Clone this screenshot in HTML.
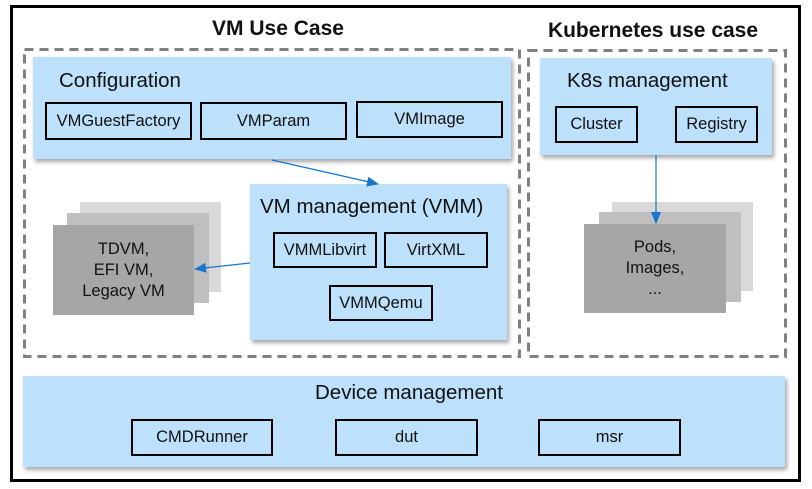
<!DOCTYPE html>
<html><head><meta charset="utf-8"><style>
body{margin:0;width:812px;height:489px;background:#fff;position:relative;overflow:hidden;font-family:"Liberation Sans",sans-serif;color:#111}
div{position:absolute;box-sizing:border-box}
.blue{background:#bde0fb;box-shadow:2px 3px 4px rgba(0,0,0,.35)}
.sb{border:2px solid #000;display:flex;align-items:center;justify-content:center;font-size:16.5px}
.t{font-size:20.5px;white-space:nowrap}
.g{display:flex;align-items:center;justify-content:center;text-align:center;font-size:16.5px;line-height:21px}
</style></head><body>
<div style="left:10px;top:5px;width:791px;height:477px;border:3px solid #000"></div>
<div class="t" style="left:168px;top:17px;width:220px;text-align:center;font-weight:bold;font-size:21px">VM Use Case</div>
<div class="t" style="left:533px;top:19px;width:240px;text-align:center;font-weight:bold;font-size:21px">Kubernetes use case</div>
<svg width="812" height="489" style="position:absolute;left:0;top:0">
<rect x="24.5" y="49.5" width="495" height="307" fill="none" stroke="#808080" stroke-width="3" stroke-dasharray="9,6"/>
<rect x="528.5" y="50.5" width="257" height="306" fill="none" stroke="#808080" stroke-width="3" stroke-dasharray="9,6"/>
</svg>

<div class="blue" style="left:33px;top:57px;width:478px;height:102px"></div>
<div class="t" style="left:59px;top:69px">Configuration</div>
<div class="sb" style="left:45px;top:102px;width:147px;height:38px">VMGuestFactory</div>
<div class="sb" style="left:200px;top:102px;width:147px;height:38px">VMParam</div>
<div class="sb" style="left:356px;top:101px;width:147px;height:37px">VMImage</div>

<div style="left:80px;top:202px;width:141px;height:90px;background:#d9d9d9"></div>
<div style="left:67px;top:213px;width:142px;height:90px;background:#bfbfbf"></div>
<div class="g" style="left:53px;top:225px;width:141px;height:90px;background:#a6a6a6">TDVM,<br>EFI VM,<br>Legacy VM</div>

<div class="blue" style="left:250px;top:184px;width:257px;height:156px"></div>
<div class="t" style="left:260px;top:195px">VM management (VMM)</div>
<div class="sb" style="left:273px;top:232px;width:104px;height:36px">VMMLibvirt</div>
<div class="sb" style="left:384px;top:232px;width:104px;height:36px">VirtXML</div>
<div class="sb" style="left:329px;top:285px;width:104px;height:36px">VMMQemu</div>

<div class="blue" style="left:540px;top:58px;width:232px;height:97px"></div>
<div class="t" style="left:567px;top:69px">K8s management</div>
<div class="sb" style="left:555px;top:106px;width:83px;height:37px">Cluster</div>
<div class="sb" style="left:675px;top:106px;width:83px;height:37px">Registry</div>

<div style="left:612px;top:202px;width:141px;height:89px;background:#d9d9d9"></div>
<div style="left:599px;top:212px;width:142px;height:90px;background:#bfbfbf"></div>
<div class="g" style="left:584px;top:224px;width:142px;height:89px;background:#a6a6a6">Pods,<br>Images,<br>...</div>

<div class="blue" style="left:23px;top:376px;width:762px;height:91px"></div>
<div class="t" style="left:23px;top:381px;width:762px;text-align:center;padding-left:10px">Device management</div>
<div class="sb" style="left:131px;top:419px;width:142px;height:37px">CMDRunner</div>
<div class="sb" style="left:335px;top:419px;width:143px;height:37px">dut</div>
<div class="sb" style="left:538px;top:419px;width:143px;height:37px">msr</div>

<svg width="812" height="489" style="position:absolute;left:0;top:0">
<defs><marker id="b" markerWidth="12" markerHeight="10" refX="11" refY="5" orient="auto" markerUnits="userSpaceOnUse"><path d="M0,0 L12,5 L0,10Z" fill="#1874cd"/></marker></defs>
<line x1="272" y1="160" x2="378" y2="184" stroke="#1874cd" stroke-width="1.2" marker-end="url(#b)"/>
<line x1="250" y1="263" x2="195" y2="269" stroke="#1874cd" stroke-width="1.2" marker-end="url(#b)"/>
<line x1="656" y1="155" x2="656" y2="223" stroke="#1874cd" stroke-width="1.2" marker-end="url(#b)"/>
</svg>
</body></html>
